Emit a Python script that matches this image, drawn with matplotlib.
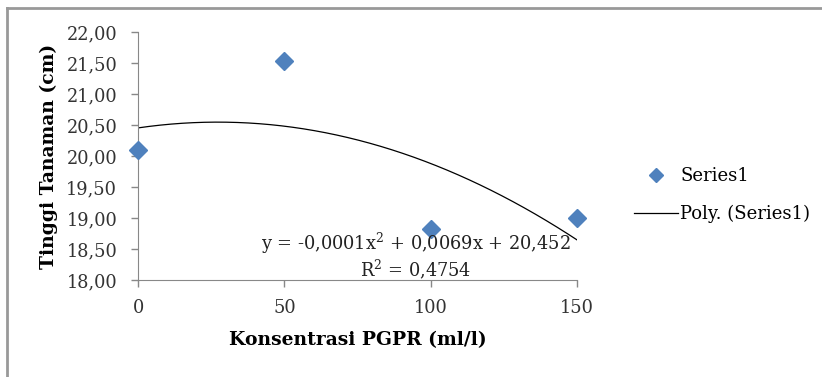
import numpy as np
import matplotlib.pyplot as plt
from matplotlib.lines import Line2D

# data
konsentrasi = [0, 50, 100, 150]
tinggi = [20.10, 21.54, 18.82, 19.00]
y_ticks = [18.0, 18.5, 19.0, 19.5, 20.0, 20.5, 21.0, 21.5, 22.0]
x_ticks = [0, 50, 100, 150]
eq_text = "y = -0,0001x$^2$ + 0,0069x + 20,452\nR$^2$ = 0,4754"

plt.rcParams['font.family'] = 'DejaVu Serif'
plt.rcParams['mathtext.fontset'] = 'dejavuserif'

fig = plt.figure(figsize=(8.22, 3.77), dpi=100)
ax = fig.add_axes([138 / 822, 1 - 280 / 377, (577 - 138) / 822, (280 - 32) / 377])

blue = '#4F81BD'
ax.plot(konsentrasi, tinggi, linestyle='none', marker='D', markersize=9,
        color=blue, clip_on=False, zorder=3)

# polynomial trendline, order 2
coef = np.polyfit(konsentrasi, tinggi, 2)
xs = np.linspace(0, 150, 200)
ax.plot(xs, np.polyval(coef, xs), color='black', linewidth=0.9, zorder=2)

ax.set_xlim(0, 150)
ax.set_ylim(18, 22)
ax.set_xticks(x_ticks)
ax.set_yticks(y_ticks)
ax.set_yticklabels([f"{v:.2f}".replace('.', ',') for v in y_ticks])
ax.tick_params(axis='both', labelsize=12.8, length=5, width=1, direction='out',
               colors='#888888', labelcolor='#333333')
ax.tick_params(axis='x', pad=9)
ax.tick_params(axis='y', pad=10)
for s in ['top', 'right']:
    ax.spines[s].set_visible(False)
for s in ['left', 'bottom']:
    ax.spines[s].set_color('#888888')

ax.set_xlabel('Konsentrasi PGPR (ml/l)', fontsize=13.5, fontweight='bold', labelpad=10)
ax.set_ylabel('Tinggi Tanaman (cm)', fontsize=13.5, fontweight='bold', labelpad=6)

ax.text(95, 18.39, eq_text, fontsize=12.8, ha='center', va='center',
        color='#222222', linespacing=1.05)

handles = [Line2D([], [], linestyle='none', marker='D', markersize=7.5, color=blue),
           Line2D([], [], color='black', linewidth=0.9)]
fig.legend(handles, ['Series1', 'Poly. (Series1)'], loc='center left',
           bbox_to_anchor=(618 / 822, 1 - 195 / 377), frameon=False,
           fontsize=13, handlelength=2.4, handletextpad=0.15, labelspacing=1.1)

# outer chart border (top and left edges visible)
fig.add_artist(Line2D([7 / 822, 7 / 822], [0, 1 - 8 / 377], color='#999999',
                      linewidth=2, transform=fig.transFigure))
fig.add_artist(Line2D([7 / 822, 1], [1 - 8 / 377, 1 - 8 / 377], color='#999999',
                      linewidth=2, transform=fig.transFigure))

fig.savefig('out.png', dpi=100)
